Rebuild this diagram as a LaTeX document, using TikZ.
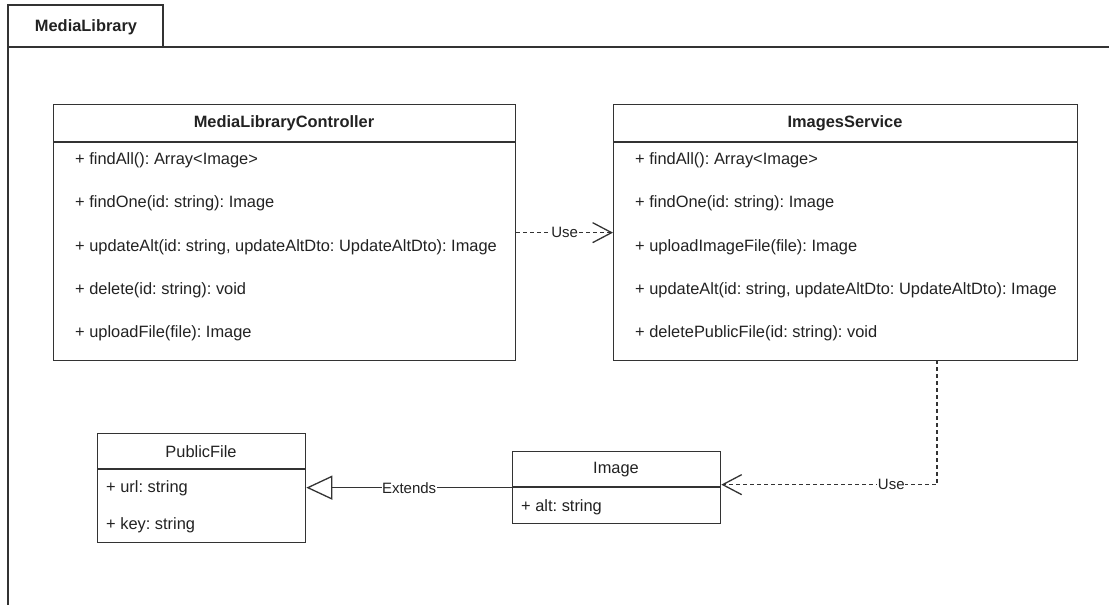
\documentclass[tikz,border=0pt]{standalone}
\usepackage{fontspec}
\setmainfont{Liberation Sans}
\usetikzlibrary{arrows.meta}
\definecolor{ln}{HTML}{333333}
\definecolor{tx}{HTML}{222222}
\frenchspacing
\begin{document}
\begin{tikzpicture}[x=1pt,y=-1pt,
  font=\fontsize{16.4}{19}\selectfont\frenchspacing,
  classbox/.style={draw=ln, line width=1.3pt, fill=white, rectangle, anchor=north west, inner sep=0pt},
  row/.style={anchor=west, inner sep=0pt, text=tx},
  ttl/.style={inner sep=0pt, text=tx},
  conn/.style={draw=ln, line width=1.3pt},
  lbl/.style={fill=white, inner sep=0.5pt, text=tx, font=\fontsize{15}{17}\selectfont},
  dep/.style={conn, dash pattern=on 4pt off 3pt, -{Straight Barb[length=19pt,width=20pt,line width=1.3pt]}},
  gen/.style={conn, -{Triangle[open, length=26pt, width=24pt, line width=1.3pt, fill=white]}}
]
\useasboundingbox (0,0) rectangle (1109,605);
\fill[white] (0,0) rectangle (1109,605);

% package frame
\draw[conn] (8,620) -- (8,47) -- (1120,47);
\draw[conn] (8,47) -- (8,5) -- (163,5) -- (163,47);
\node[ttl, font=\fontsize{16.4}{19}\selectfont\bfseries] (pkg) at (86,27) {MediaLibrary};

% MediaLibraryController
\node[classbox, minimum width=462pt, minimum height=256pt] (ctl) at (53,104) {};
\draw[conn] (53,142) -- (515,142);
\node[ttl, font=\fontsize{16.4}{19}\selectfont\bfseries] (ctlt) at (284,123) {MediaLibraryController};
\node[row] (c1) at (75,160) {+ findAll(): Array<Image>};
\node[row] (c2) at (75,203) {+ findOne(id: string): Image};
\node[row] (c3) at (75,247) {+ updateAlt(id: string, updateAltDto: UpdateAltDto): Image};
\node[row] (c4) at (75,290) {+ delete(id: string): void};
\node[row] (c5) at (75,333) {+ uploadFile(file): Image};

% ImagesService
\node[classbox, minimum width=464pt, minimum height=256pt] (svc) at (613,104) {};
\draw[conn] (613,142) -- (1077,142);
\node[ttl, font=\fontsize{16.4}{19}\selectfont\bfseries] (svct) at (845,123) {ImagesService};
\node[row] (s1) at (635,160) {+ findAll(): Array<Image>};
\node[row] (s2) at (635,203) {+ findOne(id: string): Image};
\node[row] (s3) at (635,247) {+ uploadImageFile(file): Image};
\node[row] (s4) at (635,290) {+ updateAlt(id: string, updateAltDto: UpdateAltDto): Image};
\node[row] (s5) at (635,333) {+ deletePublicFile(id: string): void};

% PublicFile
\node[classbox, minimum width=208pt, minimum height=109pt] (pf) at (97,433) {};
\draw[conn] (97,469) -- (305,469);
\node[ttl] (pft) at (201,452) {PublicFile};
\node[row] (p1) at (106,488) {+ url: string};
\node[row] (p2) at (106,525) {+ key: string};

% Image
\node[classbox, minimum width=208pt, minimum height=72pt] (img) at (512,451) {};
\draw[conn] (512,487) -- (720,487);
\node[ttl] (imgt) at (616,470) {Image};
\node[row] (i1) at (521,507) {+ alt: string};

% connectors
\coordinate (svcout) at (937,360);
\draw[dep] (ctl.east) -- node[lbl] {Use} (svc.west);
\draw[dep] (svcout) |- node[lbl, pos=0.606] {Use} ([yshift=3pt]img.east);
\draw[gen] (img.west) -- node[lbl] {Extends} (pf.east |- img.west);
\end{tikzpicture}
\end{document}
